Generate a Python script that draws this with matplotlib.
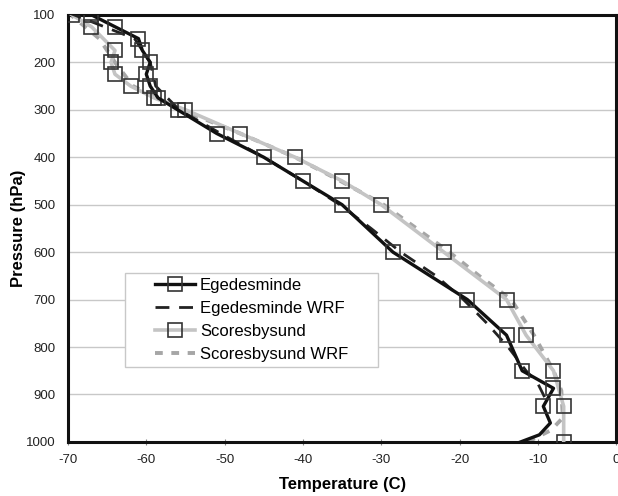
import matplotlib
matplotlib.use("Agg")
import matplotlib.pyplot as plt
from matplotlib.patches import Rectangle

plt.rcParams['font.family'] = ['Liberation Sans', 'DejaVu Sans']
plt.rcParams['axes.unicode_minus'] = False

# Egedesminde observed sounding (last three levels drawn without markers)
ege_p = [100, 125, 150, 175, 200, 225, 250, 275, 300, 350, 400, 450, 500, 600, 700, 775, 850, 887, 925, 960, 985, 1000]
ege_t = [-67, -64, -61, -60.5, -59.5, -60, -59.5, -58.5, -56, -51, -45, -40, -35, -28.5, -19, -14, -12, -8, -9.3, -8.4, -9.8, -12.2]
ege_marker_count = 19

# Egedesminde WRF profile
ege_wrf_p = [95, 150, 200, 250, 300, 350, 400, 450, 500, 550, 600, 650, 700, 750, 800, 850, 877, 920]
ege_wrf_t = [-70, -61.5, -59.5, -58.8, -55.8, -50.5, -45, -40, -35.3, -31.3, -27.5, -23, -19.5, -16.5, -13.8, -11.5, -10, -8.7]

# Scoresbysund observed sounding
sco_p = [100, 125, 175, 200, 225, 250, 275, 300, 350, 400, 450, 500, 600, 700, 775, 850, 925, 1000]
sco_t = [-69.5, -67, -64, -64.5, -64, -62, -59, -55, -48, -41, -35, -30, -22, -14, -11.5, -8, -6.7, -6.7]

# Scoresbysund WRF profile
sco_wrf_p = [95, 150, 200, 250, 300, 350, 400, 450, 500, 550, 600, 650, 700, 775, 850, 892, 949, 975, 1000]
sco_wrf_t = [-70, -66, -64, -61.7, -55.5, -48, -41, -35.2, -29.7, -25.5, -21.3, -17.5, -13.4, -10.5, -8, -7, -6.8, -8.3, -11.3]

x_ticks = [-70, -60, -50, -40, -30, -20, -10, 0]
y_ticks = [100, 200, 300, 400, 500, 600, 700, 800, 900, 1000]

fig = plt.figure(figsize=(6.18, 4.96), dpi=100)
ax = fig.add_axes([0.110, 0.109, 0.887, 0.861])

ax.plot(ege_t, ege_p, color='#111111', lw=2.4, marker='s', ms=9.5,
        markevery=list(range(ege_marker_count)),
        mfc='none', mec='#333333', mew=1.2, label='Egedesminde', zorder=5)
ax.plot(ege_wrf_t, ege_wrf_p, color='#222222', lw=2.0, dashes=(5, 3.5),
        label='Egedesminde WRF', zorder=4)
ax.plot(sco_t, sco_p, color='#c4c4c4', lw=2.6, marker='s', ms=9.5,
        mfc='none', mec='#333333', mew=1.2, label='Scoresbysund', zorder=3)
ax.plot(sco_wrf_t, sco_wrf_p, color='#a6a6a6', lw=2.8, dashes=(2, 2.2),
        label='Scoresbysund WRF', zorder=2)

ax.set_xlim(-70, 0)
ax.set_ylim(1000, 100)
ax.set_xticks(x_ticks)
ax.set_yticks(y_ticks)
ax.yaxis.grid(True, color='#c8c8c8', lw=1.0)
ax.set_axisbelow(True)
for s in ax.spines.values():
    s.set_linewidth(2.2)
    s.set_color('#111111')
ax.tick_params(axis='x', direction='inout', length=5, width=0.8, color='#888888',
               labelsize=9.5, labelcolor='#222222', pad=6)
ax.tick_params(axis='y', length=0, labelsize=9.5, labelcolor='#222222', pad=9)

ax.set_xlabel('Temperature (C)', fontsize=12, fontweight='bold', labelpad=8)
ax.set_ylabel('Pressure (hPa)', fontsize=12, fontweight='bold', labelpad=0)

# legend box (Excel style: wide horizontal padding)
bx0, bx1, by0, by1 = 0.104, 0.566, 0.176, 0.396
ax.add_patch(Rectangle((bx0, by0), bx1 - bx0, by1 - by0, transform=ax.transAxes,
                       facecolor='white', edgecolor='#c8c8c8', lw=1.0, zorder=9))
leg = ax.legend(loc='center', bbox_to_anchor=((bx0 + bx1) / 2, (by0 + by1) / 2),
                fontsize=12, frameon=False, handlelength=2.4, labelspacing=0.48,
                borderpad=0.0, handletextpad=0.3, borderaxespad=0)
leg.set_zorder(10)

fig.savefig('out.png', dpi=100)
